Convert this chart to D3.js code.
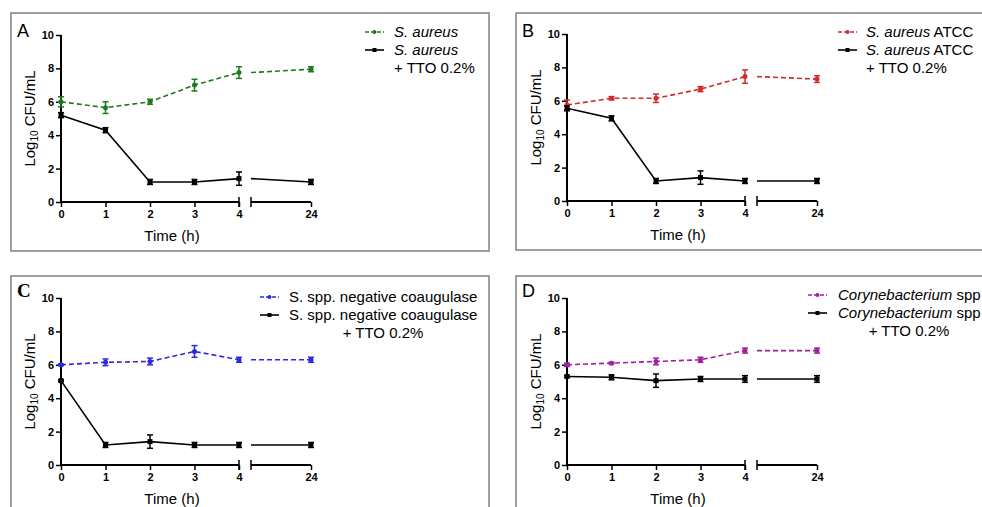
<!DOCTYPE html>
<html><head><meta charset="utf-8">
<script src="https://cdn.jsdelivr.net/npm/d3@7"></script>
<style>
html,body{margin:0;padding:0;background:#fff;overflow:hidden}
text{font-family:"Liberation Sans",Arial,sans-serif}
</style></head>
<body>
<svg id="chart" width="982" height="507"></svg>
<script>
// ---------- data ----------
const times = [0, 1, 2, 3, 4, 24];
const timeLabels = ["0", "1", "2", "3", "4", "24"];
const yTicks = [0, 2, 4, 6, 8, 10];

// Panel A: S. aureus
const aCtrl    = [6.0, 5.65, 6.0, 7.0, 7.75, 7.95];
const aCtrlErr = [0.3, 0.35, 0.15, 0.35, 0.35, 0.15];
const aTTO     = [5.2, 4.3, 1.2, 1.2, 1.4, 1.2];
const aTTOErr  = [0.15, 0.15, 0.15, 0.15, 0.4, 0.15];
// Panel B: S. aureus ATCC
const bCtrl    = [5.75, 6.15, 6.15, 6.7, 7.45, 7.3];
const bCtrlErr = [0.3, 0.1, 0.25, 0.15, 0.4, 0.2];
const bTTO     = [5.55, 4.95, 1.2, 1.4, 1.2, 1.2];
const bTTOErr  = [0.15, 0.15, 0.15, 0.4, 0.15, 0.15];
// Panel C: S. spp. negative coaugulase
const cCtrl    = [6.0, 6.15, 6.2, 6.8, 6.3, 6.3];
const cCtrlErr = [0.05, 0.2, 0.2, 0.35, 0.15, 0.15];
const cTTO     = [5.05, 1.2, 1.4, 1.2, 1.2, 1.2];
const cTTOErr  = [0.05, 0.15, 0.4, 0.15, 0.15, 0.15];
// Panel D: Corynebacterium spp
const dCtrl    = [6.0, 6.1, 6.2, 6.3, 6.85, 6.85];
const dCtrlErr = [0.1, 0.05, 0.2, 0.15, 0.15, 0.15];
const dTTO     = [5.3, 5.25, 5.05, 5.15, 5.15, 5.15];
const dTTOErr  = [0.05, 0.15, 0.4, 0.15, 0.2, 0.2];

const panelLetters = ["A", "B", "C", "D"];
const ctrlColors = ["#1f7a1f", "#d42a2a", "#2a2ae0", "#a0209e"];

// ---------- layout ----------
const svg = d3.select("#chart");
const panels = [
  {letter:"A", box:[11,13,478,238], ox:61, oy:202, ctrl:aCtrl, ctrlErr:aCtrlErr, tto:aTTO, ttoErr:aTTOErr, color:ctrlColors[0],
   legend:{lx:365, tx:394, y:32, names:[["S. aureus",""],["S. aureus",""]], tto:"+ TTO 0.2%", ttoX:394}, letterFont:"sans"},
  {letter:"B", box:[516,13,480,237], ox:567, oy:201, ctrl:bCtrl, ctrlErr:bCtrlErr, tto:bTTO, ttoErr:bTTOErr, color:ctrlColors[1],
   legend:{lx:838, tx:866, y:32, names:[["S. aureus"," ATCC"],["S. aureus"," ATCC"]], tto:"+ TTO 0.2%", ttoX:866}, letterFont:"sans"},
  {letter:"C", box:[11,276,478,240], ox:61, oy:465, ctrl:cCtrl, ctrlErr:cCtrlErr, tto:cTTO, ttoErr:cTTOErr, color:ctrlColors[2],
   legend:{lx:260, tx:289, y:297, names:[["","S. spp. negative coaugulase"],["","S. spp. negative coaugulase"]], tto:"+ TTO 0.2%", ttoX:383, ttoMid:true}, letterFont:"serif"},
  {letter:"D", box:[516,276,480,240], ox:567, oy:465, ctrl:dCtrl, ctrlErr:dCtrlErr, tto:dTTO, ttoErr:dTTOErr, color:ctrlColors[3],
   legend:{lx:808, tx:838, y:295, names:[["Corynebacterium"," spp"],["Corynebacterium"," spp"]], tto:"+ TTO 0.2%", ttoX:909, ttoMid:true}, letterFont:"sans"}
];

panels.forEach(p => {
  const g = svg.append("g");
  // frame
  g.append("rect").attr("x", p.box[0]).attr("y", p.box[1]).attr("width", p.box[2]).attr("height", p.box[3])
    .attr("fill", "none").attr("stroke", "#808080").attr("stroke-width", 1.5);
  // letter
  g.append("text").attr("x", p.box[0] + 6).attr("y", p.box[1] + (p.letter==="C"||p.letter==="D" ? 21 : 24))
    .text(p.letter)
    .style("font-size", p.letterFont==="serif" ? "19px" : "18px")
    .style("font-family", p.letterFont==="serif" ? "'Liberation Serif',serif" : "'Liberation Sans',Arial,sans-serif")
    .style("font-weight", p.letterFont==="serif" ? "bold" : "normal");

  const y = d3.scaleLinear().domain([0, 10]).range([p.oy, p.oy - 167]);
  const xL = d3.scaleLinear().domain([0, 4]).range([p.ox, p.ox + 178]);
  const xR = d3.scaleLinear().domain([4, 24]).range([p.ox + 190, p.ox + 250]);
  const xOf = t => t <= 4 ? xL(t) : xR(t);

  // y axis
  const yAx = g.append("g").attr("transform", `translate(${p.ox},0)`)
    .call(d3.axisLeft(y).tickValues(yTicks).tickSize(5).tickPadding(2).tickFormat(d3.format("d")));
  yAx.select(".domain").attr("stroke-width", 2).attr("d", `M0,${y(10)}V${y(0)}`);
  yAx.selectAll(".tick line").attr("stroke-width", 1.5);
  yAx.selectAll(".tick text").style("font-size", "11px").style("font-weight", "bold")
    .style("font-family", "'Liberation Sans',Arial,sans-serif").attr("fill", "#000");

  // x axis, two segments
  const xA1 = g.append("g").attr("transform", `translate(0,${p.oy})`)
    .call(d3.axisBottom(xL).tickValues(times.slice(0, 5)).tickSize(5).tickPadding(3).tickFormat((d, i) => timeLabels[i]));
  const xA2 = g.append("g").attr("transform", `translate(0,${p.oy})`)
    .call(d3.axisBottom(xR).tickValues([24]).tickSize(5).tickPadding(3).tickFormat(() => timeLabels[5]));
  [xA1, xA2].forEach(a => {
    a.select(".domain").attr("stroke-width", 2);
    a.selectAll(".tick line").attr("stroke-width", 1.5);
    a.selectAll(".tick text").style("font-size", "11px").style("font-weight", "bold")
      .style("font-family", "'Liberation Sans',Arial,sans-serif").attr("fill", "#000");
  });
  xA1.select(".domain").attr("d", `M${xL(0)},0H${xL(4)}`);
  xA2.select(".domain").attr("d", `M${xR(4)},0H${xR(24)}`);
  // break end ticks
  [xL(4), xR(4)].forEach(bx => g.append("line").attr("x1", bx).attr("x2", bx)
    .attr("y1", p.oy - 5).attr("y2", p.oy + 5).attr("stroke", "#000").attr("stroke-width", 1.5));

  // axis titles
  g.append("text").attr("x", (xL(0) + xR(24)) / 2 - 14).attr("y", p.oy + 39).attr("text-anchor", "middle")
    .style("font-size", "15px").text("Time (h)");
  const yt = g.append("text").attr("transform", `translate(${p.ox - 26},${y(5)}) rotate(-90)`)
    .attr("text-anchor", "middle").style("font-size", "15px");
  yt.append("tspan").text("Log");
  yt.append("tspan").text("10").style("font-size", "10px").attr("dy", 3);
  yt.append("tspan").text(" CFU/mL").attr("dy", -3);

  // series
  function drawSeries(vals, errs, color, dashed, square) {
    const pts = times.map((t, i) => ({t, v: vals[i], e: errs[i]}));
    const line = d3.line().x(d => d.x).y(d => y(d.v));
    const left = pts.slice(0, 5).map(d => ({x: xL(d.t), v: d.v}));
    const right = [{x: xR(4), v: vals[4]}, {x: xR(24), v: vals[5]}];
    [left, right].forEach(seg => g.append("path").attr("d", line(seg)).attr("fill", "none")
      .attr("stroke", color).attr("stroke-width", 1.6).attr("stroke-dasharray", dashed ? "5,3" : null));
    pts.forEach(d => {
      const cx = xOf(d.t);
      g.append("line").attr("x1", cx).attr("x2", cx).attr("y1", y(d.v - d.e)).attr("y2", y(d.v + d.e))
        .attr("stroke", color).attr("stroke-width", 1.5);
      [d.v - d.e, d.v + d.e].forEach(c => g.append("line").attr("x1", cx - 3).attr("x2", cx + 3)
        .attr("y1", y(c)).attr("y2", y(c)).attr("stroke", color).attr("stroke-width", 1.5));
      if (square) g.append("rect").attr("x", cx - 2.5).attr("y", y(d.v) - 2.5).attr("width", 5).attr("height", 5).attr("fill", color);
      else g.append("circle").attr("cx", cx).attr("cy", y(d.v)).attr("r", 2.5).attr("fill", color);
    });
  }
  drawSeries(p.ctrl, p.ctrlErr, p.color, true, false);
  drawSeries(p.tto, p.ttoErr, "#000", false, true);

  // legend
  const L = p.legend;
  [[p.color, true], ["#000", false]].forEach((s, i) => {
    const ly = L.y + i * 18;
    g.append("line").attr("x1", L.lx).attr("x2", L.lx + 19).attr("y1", ly).attr("y2", ly)
      .attr("stroke", s[0]).attr("stroke-width", 1.6).attr("stroke-dasharray", s[1] ? "4,2" : null);
    if (s[1]) g.append("circle").attr("cx", L.lx + 9.5).attr("cy", ly).attr("r", 2).attr("fill", s[0]);
    else g.append("rect").attr("x", L.lx + 7.5).attr("y", ly - 2).attr("width", 4).attr("height", 4).attr("fill", s[0]);
    const t = g.append("text").attr("x", L.tx).attr("y", ly + 5).style("font-size", "15px");
    const nm = L.names[i];
    if (nm[0]) t.append("tspan").text(nm[0]).style("font-style", "italic");
    if (nm[1]) t.append("tspan").text(nm[1]);
  });
  g.append("text").attr("x", L.ttoX).attr("y", L.y + 41).attr("text-anchor", L.ttoMid ? "middle" : "start")
    .style("font-size", "15px").text(L.tto);
});
</script>
</body></html>
